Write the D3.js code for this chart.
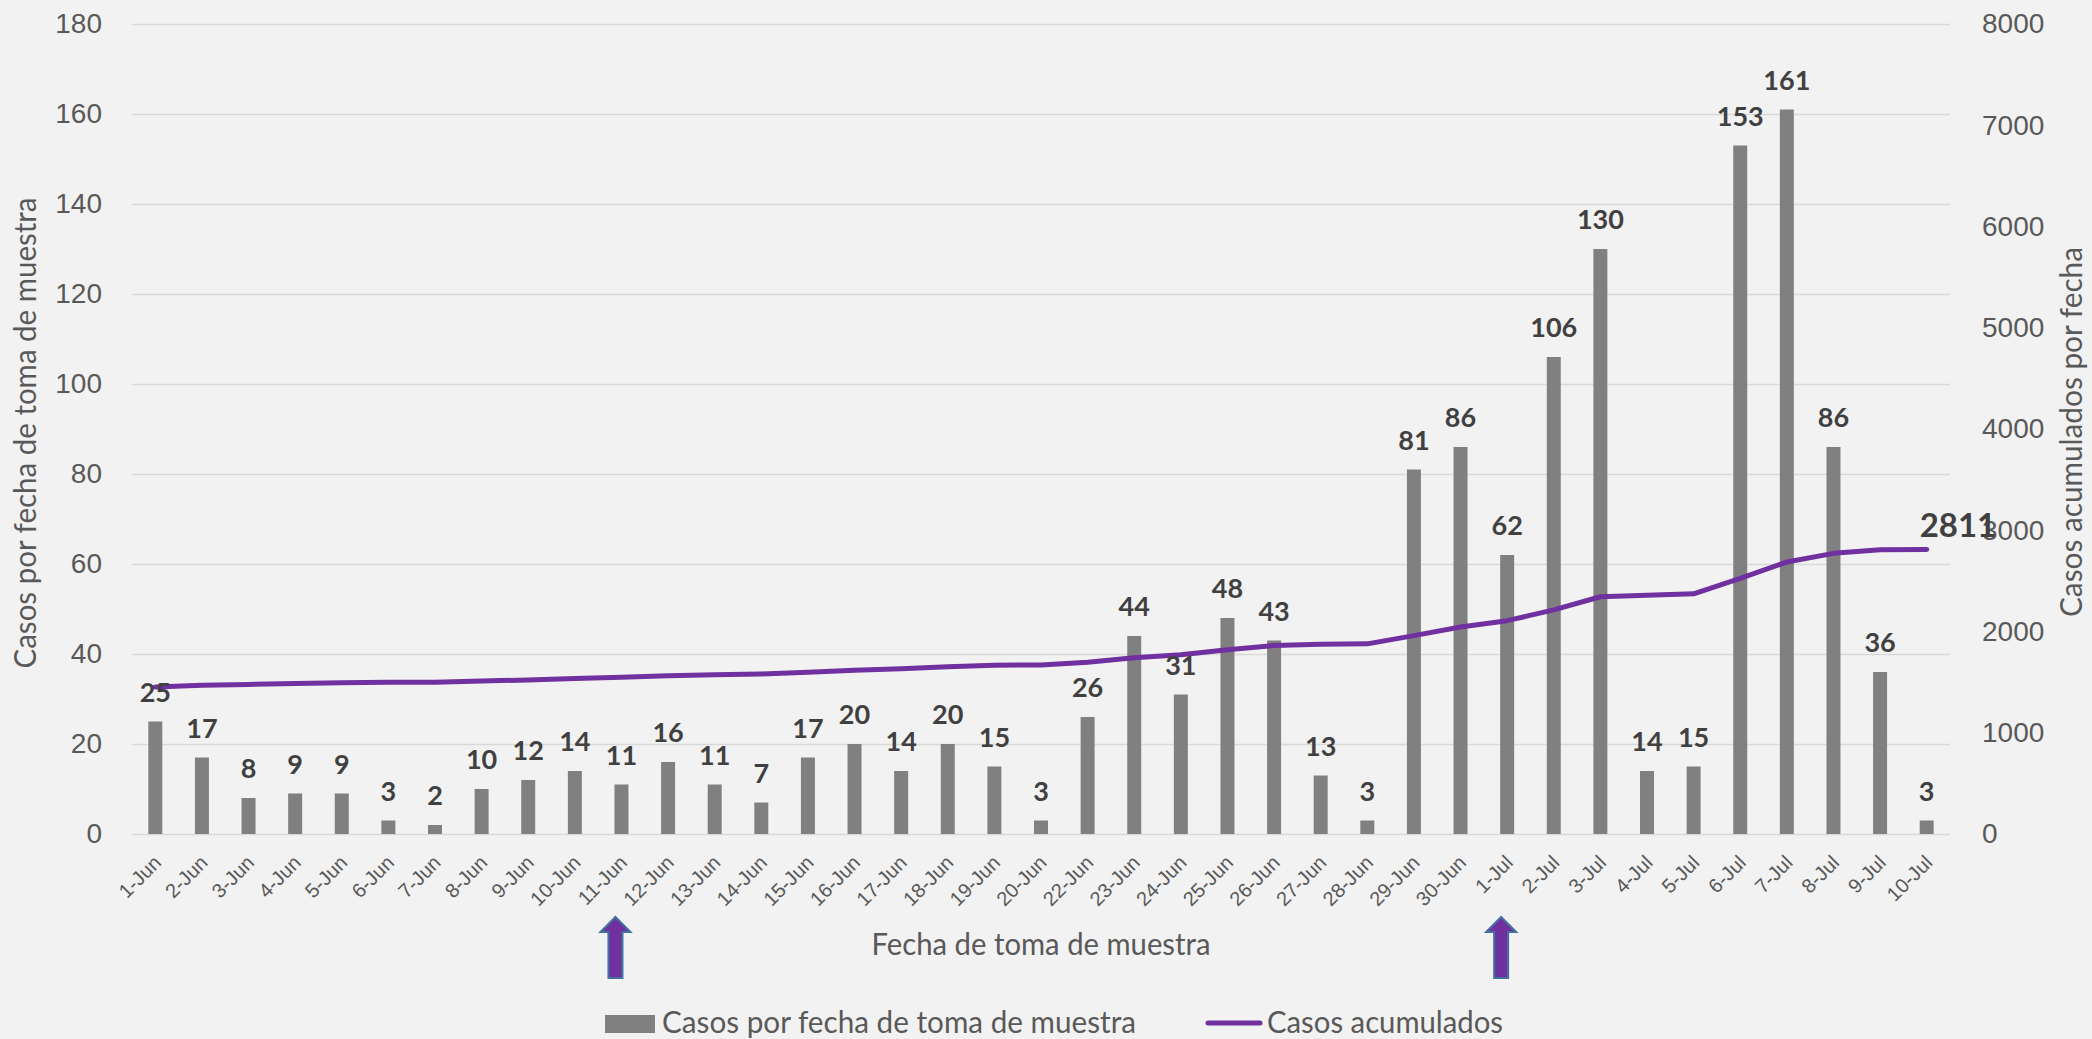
<!DOCTYPE html>
<html>
<head>
<meta charset="utf-8">
<script src="https://cdn.jsdelivr.net/npm/d3@7"></script>
<style>
  body { margin: 0; background: #F2F2F2; }
  svg { display: block; font-family: Lato, "Open Sans", sans-serif; }
</style>
</head>
<body>
<div id="chart-area"></div>
<script>
const categories = ["1-Jun","2-Jun","3-Jun","4-Jun","5-Jun","6-Jun","7-Jun","8-Jun","9-Jun","10-Jun",
  "11-Jun","12-Jun","13-Jun","14-Jun","15-Jun","16-Jun","17-Jun","18-Jun","19-Jun","20-Jun",
  "22-Jun","23-Jun","24-Jun","25-Jun","26-Jun","27-Jun","28-Jun","29-Jun","30-Jun",
  "1-Jul","2-Jul","3-Jul","4-Jul","5-Jul","6-Jul","7-Jul","8-Jul","9-Jul","10-Jul"]
const dailyCases = [25,17,8,9,9,3,2,10,12,14,11,16,11,7,17,20,14,20,15,3,
  26,44,31,48,43,13,3,81,86,62,106,130,14,15,153,161,86,36,3]
const cumulativeCases = [1452,1469,1477,1486,1495,1498,1500,1510,1522,1536,
  1547,1563,1574,1581,1598,1618,1632,1652,1667,1670,
  1696,1740,1771,1819,1862,1875,1878,1959,2045,
  2107,2213,2343,2357,2372,2525,2686,2772,2808,2811]
const leftTicks = [0,20,40,60,80,100,120,140,160,180]
const rightTicks = [0,1000,2000,3000,4000,5000,6000,7000,8000]
const arrowDates = ["11-Jun","1-Jul"]

const MARGIN = {LEFT:132, RIGHT:142, TOP:24, BOTTOM:205}
const WIDTH = 2092 - MARGIN.LEFT - MARGIN.RIGHT
const HEIGHT = 1039 - MARGIN.TOP - MARGIN.BOTTOM

const svg = d3.select("#chart-area").append("svg")
  .attr("width", 2092)
  .attr("height", 1039)

svg.append("rect")
  .attr("width", 2092).attr("height", 1039)
  .attr("fill", "#F2F2F2")

const g = svg.append("g")
  .attr("transform", `translate(${MARGIN.LEFT},${MARGIN.TOP})`)

const x = d3.scaleBand()
  .domain(categories)
  .range([0, WIDTH])
  .paddingInner(0.7)
  .paddingOuter(0.35)

const yLeft = d3.scaleLinear().domain([0, 180]).range([HEIGHT, 0])
const yRight = d3.scaleLinear().domain([0, 8000]).range([HEIGHT, 0])

// gridlines + left ticks
const yAxisLeft = g.append("g")
  .call(d3.axisLeft(yLeft).tickValues(leftTicks).tickSize(-WIDTH).tickPadding(30))
yAxisLeft.select(".domain").remove()
yAxisLeft.selectAll("line").attr("stroke", "#D9D9D9").attr("stroke-width", 1.5)
yAxisLeft.selectAll("text")
  .attr("fill", "#595959").attr("font-size", 28)

const yAxisRight = g.append("g")
  .attr("transform", `translate(${WIDTH},0)`)
  .call(d3.axisRight(yRight).tickValues(rightTicks).tickSize(0).tickPadding(32)
    .tickFormat(d3.format("d")))
yAxisRight.select(".domain").remove()
yAxisRight.selectAll("text")
  .attr("fill", "#595959").attr("font-size", 28)

const xAxis = g.append("g")
  .attr("transform", `translate(0,${HEIGHT})`)
  .call(d3.axisBottom(x).tickSize(0))
xAxis.select(".domain").remove()
xAxis.selectAll("text")
  .attr("x", 0).attr("y", 0).attr("dy", "0.35em")
  .attr("text-anchor", "end")
  .attr("transform", "translate(2,25) rotate(-45)")
  .attr("fill", "#595959").attr("font-size", 20)

// bars
g.selectAll("rect.bar")
  .data(dailyCases)
  .enter().append("rect")
    .attr("class", "bar")
    .attr("x", (d, i) => x(categories[i]))
    .attr("y", d => yLeft(d))
    .attr("width", x.bandwidth())
    .attr("height", d => HEIGHT - yLeft(d))
    .attr("fill", "#808080")

// cumulative line
const line = d3.line()
  .x((d, i) => x(categories[i]) + x.bandwidth() / 2)
  .y(d => yRight(d))

g.append("path")
  .datum(cumulativeCases)
  .attr("d", line)
  .attr("fill", "none")
  .attr("stroke", "#7030A0")
  .attr("stroke-width", 5)
  .attr("stroke-linejoin", "round")
  .attr("stroke-linecap", "round")

// bar labels
g.selectAll("text.bar-label")
  .data(dailyCases)
  .enter().append("text")
    .attr("class", "bar-label")
    .attr("x", (d, i) => x(categories[i]) + x.bandwidth() / 2)
    .attr("y", d => yLeft(d) - 20)
    .attr("text-anchor", "middle")
    .attr("font-size", 27)
    .attr("font-weight", "bold")
    .attr("fill", "#404040")
    .text(d => d)

// last cumulative label
const lastI = cumulativeCases.length - 1
g.append("text")
  .attr("x", x(categories[lastI]) + x.bandwidth() / 2 - 7)
  .attr("y", yRight(cumulativeCases[lastI]) - 12)
  .attr("font-size", 33)
  .attr("font-weight", "bold")
  .attr("fill", "#404040")
  .text(cumulativeCases[lastI])

// arrows under two dates
arrowDates.forEach(dt => {
  const cx = x(dt) + x.bandwidth() / 2 - 6
  const top = HEIGHT + 83
  const path = d3.path()
  path.moveTo(cx, top)
  path.lineTo(cx + 15, top + 15)
  path.lineTo(cx + 7, top + 15)
  path.lineTo(cx + 7, top + 61)
  path.lineTo(cx - 7, top + 61)
  path.lineTo(cx - 7, top + 15)
  path.lineTo(cx - 15, top + 15)
  path.closePath()
  g.append("path")
    .attr("d", path.toString())
    .attr("fill", "#7030A0")
    .attr("stroke", "#41719C")
    .attr("stroke-width", 2)
})

// axis titles
g.append("text")
  .attr("x", WIDTH / 2)
  .attr("y", HEIGHT + 121)
  .attr("text-anchor", "middle")
  .attr("font-size", 30)
  .attr("textLength", 339)
  .attr("lengthAdjust", "spacingAndGlyphs")
  .attr("fill", "#595959")
  .text("Fecha de toma de muestra")

svg.append("text")
  .attr("transform", "translate(36,433) rotate(-90)")
  .attr("text-anchor", "middle")
  .attr("font-size", 30)
  .attr("textLength", 471)
  .attr("lengthAdjust", "spacingAndGlyphs")
  .attr("fill", "#595959")
  .text("Casos por fecha de toma de muestra")

svg.append("text")
  .attr("transform", "translate(2082,432) rotate(-90)")
  .attr("text-anchor", "middle")
  .attr("font-size", 30)
  .attr("textLength", 370)
  .attr("lengthAdjust", "spacingAndGlyphs")
  .attr("fill", "#595959")
  .text("Casos acumulados por fecha")

// legend
const legend = svg.append("g")
legend.append("rect")
  .attr("x", 605).attr("y", 1015)
  .attr("width", 50).attr("height", 18)
  .attr("fill", "#808080")
legend.append("text")
  .attr("x", 662).attr("y", 1033)
  .attr("font-size", 30)
  .attr("textLength", 474)
  .attr("lengthAdjust", "spacingAndGlyphs")
  .attr("fill", "#595959")
  .text("Casos por fecha de toma de muestra")
legend.append("line")
  .attr("x1", 1208).attr("x2", 1260)
  .attr("y1", 1023).attr("y2", 1023)
  .attr("stroke", "#7030A0")
  .attr("stroke-width", 5)
  .attr("stroke-linecap", "round")
legend.append("text")
  .attr("x", 1267).attr("y", 1033)
  .attr("font-size", 30)
  .attr("textLength", 236)
  .attr("lengthAdjust", "spacingAndGlyphs")
  .attr("fill", "#595959")
  .text("Casos acumulados")
</script>
</body>
</html>
